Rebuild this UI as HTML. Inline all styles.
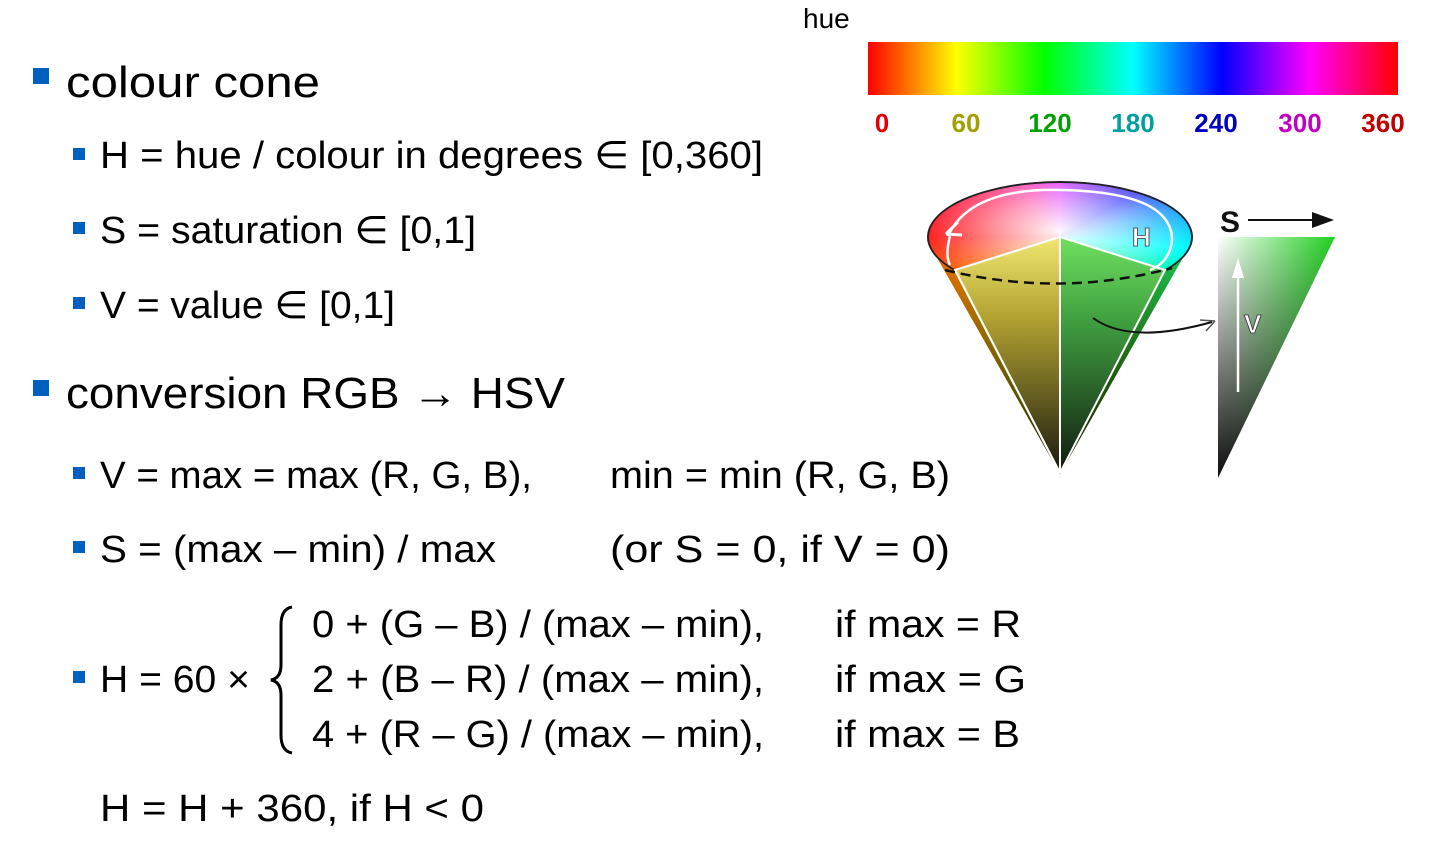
<!DOCTYPE html>
<html><head><meta charset="utf-8"><style>
html,body{margin:0;padding:0;background:#fff;}
#wrap{position:relative;width:1436px;height:845px;overflow:hidden;background:#fff;font-family:"Liberation Sans",sans-serif;}
svg{position:absolute;left:0;top:0;}
#conetop{position:absolute;left:927px;top:181px;width:266px;height:112px;border-radius:50%;
background:radial-gradient(ellipse at 50% 45%,rgba(255,255,255,0.95) 0%,rgba(255,255,255,0.5) 35%,rgba(255,255,255,0) 70%),
conic-gradient(from 0deg,#e040ff 0deg,#4040ff 60deg,#00ffff 95deg,#20e020 135deg,#c0ff00 190deg,#ffe000 225deg,#ff2020 270deg,#ff40a0 320deg,#e040ff 360deg);
box-shadow:inset 0 0 0 2px #222;}
</style></head><body>
<div id="wrap">
<svg width="1436" height="845">
<defs>
<linearGradient id="bodyH" x1="0" x2="1" y1="0" y2="0"><stop offset="0" stop-color="#ff6000"/><stop offset="0.35" stop-color="#e0d000"/><stop offset="0.7" stop-color="#40c020"/><stop offset="1" stop-color="#10d060"/></linearGradient>
<linearGradient id="bodyV" x1="0" x2="0" y1="0" y2="1"><stop offset="0" stop-color="#000" stop-opacity="0"/><stop offset="1" stop-color="#000" stop-opacity="0.9"/></linearGradient>
</defs>
<polygon points="927,240 1193,240 1060,474" fill="url(#bodyH)"/>
<polygon points="927,240 1193,240 1060,474" fill="url(#bodyV)"/>
</svg>
<div id="conetop"></div>
<svg width="1436" height="845">
<defs>
<linearGradient id="hueBar" x1="0" x2="1"><stop offset="0" stop-color="#ff0000"/><stop offset="0.1667" stop-color="#ffff00"/><stop offset="0.333" stop-color="#00ff00"/><stop offset="0.5" stop-color="#00ffff"/><stop offset="0.667" stop-color="#0000ff"/><stop offset="0.833" stop-color="#ff00ff"/><stop offset="1" stop-color="#ff0000"/></linearGradient>
<linearGradient id="lf" x1="0" x2="0" y1="0" y2="1"><stop offset="0" stop-color="#f0e870"/><stop offset="0.35" stop-color="#b0a030"/><stop offset="1" stop-color="#1a1a10"/></linearGradient>
<linearGradient id="rf" x1="0" x2="0" y1="0" y2="1"><stop offset="0" stop-color="#70e060"/><stop offset="0.35" stop-color="#40a040"/><stop offset="1" stop-color="#101a10"/></linearGradient>
<linearGradient id="tH" x1="0" x2="1"><stop offset="0" stop-color="#ffffff"/><stop offset="1" stop-color="#20d020"/></linearGradient>
<linearGradient id="tV" x1="0" x2="0" y1="0" y2="1"><stop offset="0" stop-color="#000" stop-opacity="0"/><stop offset="1" stop-color="#000" stop-opacity="0.95"/></linearGradient>
</defs>
<!-- cone cut faces -->
<polygon points="1060,237 955,270 1060,473" fill="url(#lf)" stroke="#fff" stroke-width="2"/>
<polygon points="1060,237 1165,270 1060,473" fill="url(#rf)" stroke="#fff" stroke-width="2"/>
<line x1="955" y1="270" x2="1060" y2="473" stroke="#fff" stroke-width="2"/>
<path d="M945,270 Q1060,298 1172,268" fill="none" stroke="#111" stroke-width="2.5" stroke-dasharray="10,6"/>
<path d="M948,236 Q970,188 1060,190 Q1172,192 1172,240 Q1170,262 1150,270" fill="none" stroke="#fff" stroke-width="2.5"/>
<path d="M946,234 L958,222 M946,234 L962,235" stroke="#fff" stroke-width="3"/>
<path d="M950,236 Q945,256 950,265" fill="none" stroke="#fff" stroke-width="2.5"/>
<text x="1132" y="246" font-size="26" font-weight="bold" fill="#fff" stroke="#333" stroke-width="0.8">H</text>
<path d="M1093,318 Q1130,345 1212,322" fill="none" stroke="#111" stroke-width="2"/>
<path d="M1215,321 L1200,320 M1215,321 L1206,331" stroke="#555" stroke-width="1.5"/>
<!-- triangle -->
<polygon points="1218,237 1335,237 1218,478" fill="url(#tH)"/>
<polygon points="1218,237 1335,237 1218,478" fill="url(#tV)"/>
<line x1="1238" y1="392" x2="1238" y2="266" stroke="#fff" stroke-width="2.5"/>
<path d="M1238,258 L1232,278 L1244,278 Z" fill="#fff"/>
<text x="1244" y="333" font-size="26" font-weight="bold" fill="#fff" stroke="#333" stroke-width="0.8">V</text>
<text x="1220" y="232" font-size="30" font-weight="bold" fill="#111">S</text>
<line x1="1248" y1="220" x2="1318" y2="220" stroke="#111" stroke-width="2"/>
<path d="M1334,220 L1312,212 L1312,228 Z" fill="#111"/>
<!-- hue bar -->
<text x="803" y="28" font-size="28" fill="#000">hue</text>
<rect x="868" y="42" width="530" height="53" fill="url(#hueBar)"/>
<g font-size="26" font-weight="bold" text-anchor="middle">
<text x="882" y="132" fill="#e00000">0</text>
<text x="966" y="132" fill="#a0a000">60</text>
<text x="1050" y="132" fill="#00a000">120</text>
<text x="1133" y="132" fill="#00a0a0">180</text>
<text x="1216" y="132" fill="#0000c0">240</text>
<text x="1300" y="132" fill="#c000c0">300</text>
<text x="1383" y="132" fill="#c00000">360</text>
</g>
<!-- bullets -->
<g fill="#0060c0">
<rect x="33" y="68" width="16" height="16"/><rect x="33" y="380" width="16" height="16"/>
<rect x="73" y="148" width="12" height="12"/><rect x="73" y="222" width="12" height="12"/><rect x="73" y="297" width="12" height="12"/>
<rect x="73" y="467" width="12" height="12"/><rect x="73" y="541" width="12" height="12"/><rect x="73" y="671" width="12" height="12"/>
</g>
<g fill="#000">
<text x="66" y="97" font-size="44" textLength="254" lengthAdjust="spacingAndGlyphs">colour cone</text>
<text x="100" y="168" font-size="38" textLength="663" lengthAdjust="spacingAndGlyphs">H = hue / colour in degrees ∈ [0,360]</text>
<text x="100" y="243" font-size="38" textLength="376" lengthAdjust="spacingAndGlyphs">S = saturation ∈ [0,1]</text>
<text x="100" y="318" font-size="38" textLength="295" lengthAdjust="spacingAndGlyphs">V = value ∈ [0,1]</text>
<text x="66" y="408" font-size="44" textLength="499" lengthAdjust="spacingAndGlyphs">conversion RGB → HSV</text>
<text x="100" y="488" font-size="38" textLength="432" lengthAdjust="spacingAndGlyphs">V = max = max (R, G, B),</text>
<text x="610" y="488" font-size="38" textLength="340" lengthAdjust="spacingAndGlyphs">min = min (R, G, B)</text>
<text x="100" y="562" font-size="38" textLength="396" lengthAdjust="spacingAndGlyphs">S = (max – min) / max</text>
<text x="610" y="562" font-size="38" textLength="340" lengthAdjust="spacingAndGlyphs">(or  S = 0,  if  V = 0)</text>
<text x="100" y="692" font-size="38" textLength="150" lengthAdjust="spacingAndGlyphs">H = 60 ×</text>
<text x="312" y="637" font-size="38" textLength="452" lengthAdjust="spacingAndGlyphs">0 + (G – B) / (max – min),</text>
<text x="312" y="692" font-size="38" textLength="452" lengthAdjust="spacingAndGlyphs">2 + (B – R) / (max – min),</text>
<text x="312" y="747" font-size="38" textLength="452" lengthAdjust="spacingAndGlyphs">4 + (R – G) / (max – min),</text>
<text x="835" y="637" font-size="38" textLength="186" lengthAdjust="spacingAndGlyphs">if  max = R</text>
<text x="835" y="692" font-size="38" textLength="191" lengthAdjust="spacingAndGlyphs">if  max = G</text>
<text x="835" y="747" font-size="38" textLength="185" lengthAdjust="spacingAndGlyphs">if  max = B</text>
<text x="100" y="821" font-size="38" textLength="384" lengthAdjust="spacingAndGlyphs">H = H + 360,  if  H &lt; 0</text>
</g>
<path d="M292,607 Q281,609 281,625 L281,665 Q281,678 271,680 Q281,682 281,695 L281,735 Q281,751 292,753" fill="none" stroke="#000" stroke-width="3"/>
</svg>
</div>
</body></html>
